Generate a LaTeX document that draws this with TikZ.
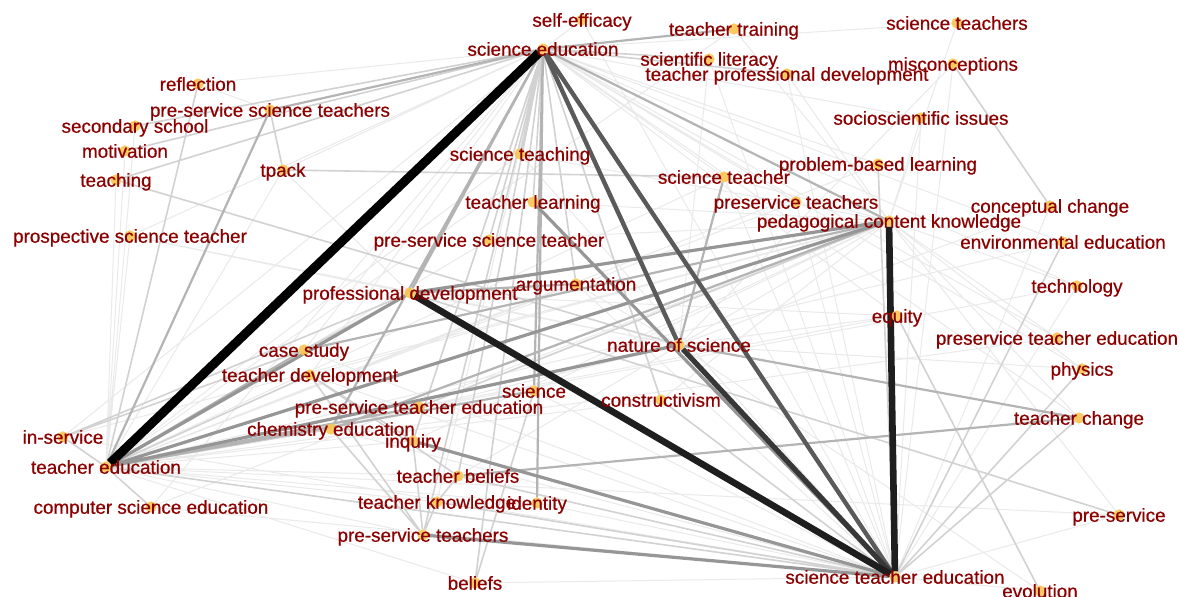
\documentclass[tikz,border=0pt]{standalone}
\usepackage{fontspec}
\setmainfont{Liberation Sans}
\newfontfamily\kwfont{Liberation Sans}[FakeBold=0.6]
\usepackage{tikz}
\usetikzlibrary{backgrounds}

\definecolor{kwred}{RGB}{139,0,0}
\definecolor{kwdotc}{RGB}{250,196,80}

\tikzset{
  kw/.style={circle, fill=kwdotc, fill opacity=0.9, minimum size=5.6pt, inner sep=0pt, outer sep=0pt},
  kwlabel/.style={text=kwred, text opacity=1, font=\kwfont\fontsize{9.43}{11}\selectfont,
    inner sep=0pt, text height=6.75pt, text depth=0pt},
  wblack/.style={draw=black, line width=4.5pt},
  wdark/.style={draw={rgb,255:red,30;green,30;blue,30}, line width=3.3pt},
  wnos/.style={draw={rgb,255:red,55;green,55;blue,55}, line width=2.6pt},
  wmid/.style={draw={rgb,255:red,90;green,90;blue,90}, line width=2.2pt},
  wgrey/.style={draw={rgb,255:red,150;green,150;blue,150}, line width=1.6pt},
  wlight/.style={draw={rgb,255:red,180;green,180;blue,180}, line width=1.1pt},
  wpale/.style={draw={rgb,255:red,210;green,210;blue,210}, line width=0.8pt},
  wfaint/.style={draw={rgb,255:red,234;green,234;blue,234}, line width=0.5pt},
}

\begin{document}
\begin{tikzpicture}[x=0.5pt, y=-0.5pt]
    \useasboundingbox (0,0) rectangle (1180,597);

    % keywords
    \node[kw, label={[kwlabel]center:self-efficacy}] (sefi) at (582,20) {};
    \node[kw, label={[kwlabel]center:science education}] (sed) at (543,49) {};
    \node[kw, label={[kwlabel]center:teacher training}] (ttr) at (734,29) {};
    \node[kw, label={[kwlabel]center:scientific literacy}] (slit) at (709,59) {};
    \node[kw, label={[kwlabel]center:teacher professional development}] (tpd) at (787,74) {};
    \node[kw, label={[kwlabel]center:science teachers}] (stchs) at (957,23) {};
    \node[kw, label={[kwlabel]center:misconceptions}] (misc) at (953,64) {};
    \node[kw, label={[kwlabel]center:socioscientific issues}] (ssi) at (921,118) {};
    \node[kw, label={[kwlabel]center:problem-based learning}] (pbl) at (878,164) {};
    \node[kw, label={[kwlabel]center:reflection}] (refl) at (198,84) {};
    \node[kw, label={[kwlabel]center:pre-service science teachers}] (pssts) at (270,110) {};
    \node[kw, label={[kwlabel]center:secondary school}] (secs) at (135,126) {};
    \node[kw, label={[kwlabel]center:motivation}] (motv) at (125,151) {};
    \node[kw, label={[kwlabel]center:teaching}] (tchg) at (116,180) {};
    \node[kw, label={[kwlabel]center:tpack}] (tpack) at (283,170) {};
    \node[kw, label={[kwlabel]center:science teaching}] (stng) at (520,154) {};
    \node[kw, label={[kwlabel]center:science teacher}] (stch) at (724,177) {};
    \node[kw, label={[kwlabel]center:teacher learning}] (tlrn) at (533,202) {};
    \node[kw, label={[kwlabel]center:preservice teachers}] (prtchs) at (796,202) {};
    \node[kw, label={[kwlabel]center:pedagogical content knowledge}] (pck) at (889,221) {};
    \node[kw, label={[kwlabel]center:conceptual change}] (cchg) at (1050,206) {};
    \node[kw, label={[kwlabel]center:environmental education}] (envd) at (1063,242) {};
    \node[kw, label={[kwlabel]center:prospective science teacher}] (psct) at (130,236) {};
    \node[kw, label={[kwlabel]center:pre-service science teacher}] (psst) at (489,240) {};
    \node[kw, label={[kwlabel]center:argumentation}] (argu) at (576,284) {};
    \node[kw, label={[kwlabel]center:professional development}] (prd) at (410,293) {};
    \node[kw, label={[kwlabel]center:technology}] (tech) at (1077,286) {};
    \node[kw, label={[kwlabel]center:equity}] (eqty) at (897,316) {};
    \node[kw, label={[kwlabel]center:preservice teacher education}] (pted) at (1057,338) {};
    \node[kw, label={[kwlabel]center:nature of science}] (nos) at (679,345) {};
    \node[kw, label={[kwlabel]center:case study}] (case) at (304,350) {};
    \node[kw, label={[kwlabel]center:teacher development}] (tdev) at (310,375) {};
    \node[kw, label={[kwlabel]center:physics}] (phys) at (1082,369) {};
    \node[kw, label={[kwlabel]center:science}] (sci) at (534,391) {};
    \node[kw, label={[kwlabel]center:constructivism}] (cons) at (661,400) {};
    \node[kw, label={[kwlabel]center:pre-service teacher education}] (pste) at (419,407) {};
    \node[kw, label={[kwlabel]center:teacher change}] (tchc) at (1079,418) {};
    \node[kw, label={[kwlabel]center:chemistry education}] (chem) at (331,429) {};
    \node[kw, label={[kwlabel]center:in-service}] (insv) at (63,437) {};
    \node[kw, label={[kwlabel]center:inquiry}] (inq) at (413,441) {};
    \node[kw, label={[kwlabel]center:teacher education}] (ted) at (106,467) {};
    \node[kw, label={[kwlabel]center:teacher beliefs}] (tbel) at (458,476) {};
    \node[kw, label={[kwlabel]center:teacher knowledge}] (tknw) at (437,502) {};
    \node[kw, label={[kwlabel]center:identity}] (idty) at (537,503) {};
    \node[kw, label={[kwlabel]center:computer science education}] (cse) at (151,507) {};
    \node[kw, label={[kwlabel]center:pre-service teachers}] (pstchs) at (423,535) {};
    \node[kw, label={[kwlabel]center:pre-service}] (psv) at (1119,515) {};
    \node[kw, label={[kwlabel]center:beliefs}] (bel) at (475,583) {};
    \node[kw, label={[kwlabel]center:science teacher education}] (ste) at (895,577) {};
    \node[kw, label={[kwlabel]center:evolution}] (evol) at (1040,591) {};

    \begin{scope}[on background layer]
        \fill[white] (0,0) rectangle (1180,597);
        % faint web
        \draw[wfaint] (refl) -- (sed) (refl) -- (pssts) (secs) -- (ted) (motv) -- (ted)
            (tchg) -- (ted) (psct) -- (ted) (psct) -- (sed) (psct) -- (prd)
            (tpack) -- (ted) (tpack) -- (sed) (tpack) -- (prd) (stng) -- (ste)
            (stng) -- (ted) (stng) -- (pck) (tlrn) -- (pck) (psst) -- (pck)
            (psst) -- (ted) (argu) -- (ste) (argu) -- (ted) (argu) -- (nos)
            (sefi) -- (sed) (sefi) -- (ste) (ttr) -- (pck) (ttr) -- (ted)
            (slit) -- (ste) (slit) -- (nos) (tpd) -- (ste) (tpd) -- (pck)
            (stchs) -- (pck) (stchs) -- (sed) (misc) -- (ste) (misc) -- (nos)
            (ssi) -- (sed) (ssi) -- (ste) (pbl) -- (sed) (pbl) -- (ted)
            (prtchs) -- (ste) (prtchs) -- (ted) (prtchs) -- (sed) (cchg) -- (ste)
            (cchg) -- (nos) (envd) -- (sed) (tech) -- (pck) (tech) -- (ted)
            (eqty) -- (ted) (eqty) -- (sed) (eqty) -- (prd) (pted) -- (sed)
            (pted) -- (ted) (phys) -- (nos) (phys) -- (sed) (tchc) -- (sed)
            (psv) -- (ted) (psv) -- (ste) (evol) -- (ste) (evol) -- (nos)
            (case) -- (ste) (case) -- (sed) (tdev) -- (ste) (tdev) -- (sed)
            (tdev) -- (pck) (chem) -- (ste) (chem) -- (sed) (chem) -- (nos)
            (insv) -- (sed) (insv) -- (ste) (inq) -- (ted) (inq) -- (sed)
            (inq) -- (pck) (tbel) -- (ted) (tbel) -- (pck) (tknw) -- (ted)
            (tknw) -- (sed) (idty) -- (ste) (idty) -- (ted) (cse) -- (sed)
            (cse) -- (pck) (pstchs) -- (ted) (bel) -- (ste) (bel) -- (ted)
            (sci) -- (ste) (sci) -- (pck) (cons) -- (sed) (cons) -- (ted)
            (cons) -- (pck) (nos) -- (prd) (stch) -- (ste) (stch) -- (sed)
            (stch) -- (ted) (stch) -- (pck) (psct) -- (nos) (insv) -- (pck)
            (cse) -- (ste) (eqty) -- (nos) (tech) -- (sed) (envd) -- (ted)
            (pck) -- (pted) (pck) -- (phys) (pck) -- (tchc) (pck) -- (psv)
            (ssi) -- (pck) (tech) -- (ste);
        % pale links
        \draw[wpale] (motv) -- (sed) (tchg) -- (sed) (secs) -- (sed) (tchg) -- (nos)
            (tpack) -- (stch) (pbl) -- (ste) (phys) -- (ste) (tchc) -- (ste)
            (cons) -- (ste) (tbel) -- (ste) (ted) -- (ste) (refl) -- (ted)
            (sed) -- (slit) (sed) -- (tpd) (sed) -- (stng) (sed) -- (tlrn)
            (sed) -- (argu) (sed) -- (inq) (sed) -- (tbel) (sed) -- (pstchs)
            (sed) -- (bel) (sed) -- (cons) (prd) -- (psv) (misc) -- (cchg)
            (envd) -- (ste) (case) -- (prd)
            (tdev) -- (inq) (tdev) -- (tbel) (pste) -- (pck) (bel) -- (sci)
            (tknw) -- (tbel) (pstchs) -- (tknw) (pstchs) -- (tdev) (pstchs) -- (inq)
            (pstchs) -- (chem) (insv) -- (prd) (insv) -- (case) (ted) -- (cse)
            (ted) -- (insv) (ted) -- (tdev) (ted) -- (chem) (eqty) -- (evol)
            (pssts) -- (tpack) (psst) -- (sed) (tknw) -- (ste);
        % grey links
        \draw[wlight] (ted) -- (sci) (ted) -- (pste) (tchc) -- (tbel) (nos) -- (tchc)
            (sed) -- (ttr) (sed) -- (pssts) (pssts) -- (ted) (sed) -- (pck)
            (sed) -- (prd) (case) -- (pck) (chem) -- (pck) (sed) -- (sci)
            (sed) -- (chem) (stch) -- (nos) (sed) -- (idty) (ted) -- (case)
            (argu) -- (prd);
        \draw[wgrey] (ted) -- (pck) (ted) -- (nos) (prd) -- (pck) (pstchs) -- (ste)
            (inq) -- (ste) (ted) -- (prd) (tlrn) -- (ste);
        % strong links
        \draw[wmid] (sed) -- (nos);
        \draw[wmid] (sed) -- (ste);
        \draw[wnos] (nos) -- (ste);
        \draw[wdark] (prd) -- (ste);
        \draw[wdark] (pck) -- (ste);
        \draw[wblack] (sed) -- (ted);
    \end{scope}
\end{tikzpicture}
\end{document}
